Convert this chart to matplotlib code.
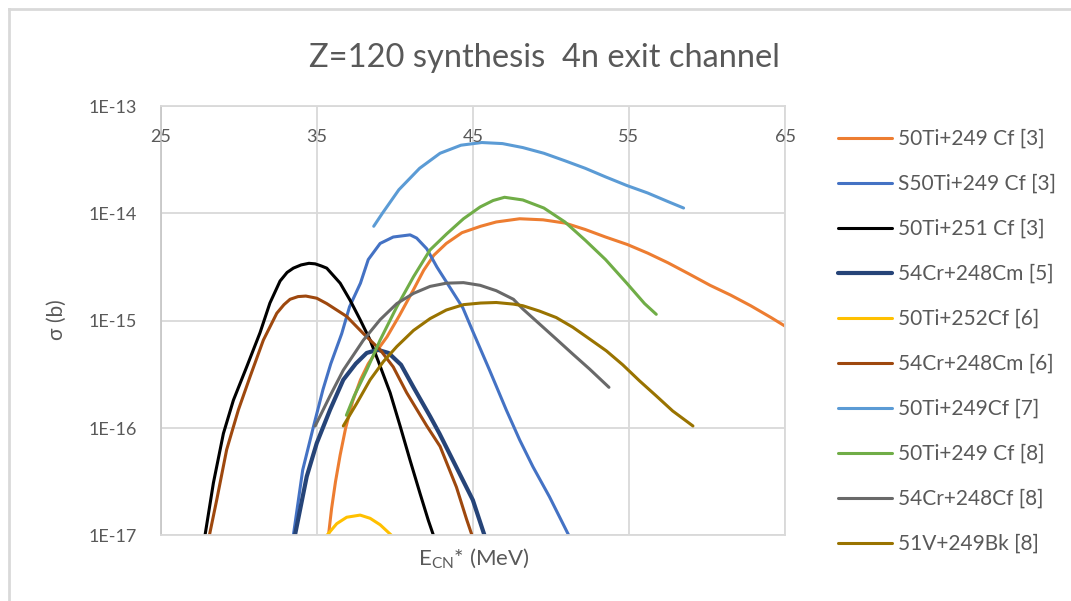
"""Z=120 synthesis, 4n exit channel: cross sections vs excitation energy."""

import numpy as np
import matplotlib.pyplot as plt
from matplotlib.lines import Line2D

plt.rcParams['font.family'] = ['Lato', 'DejaVu Sans']

TEXT = '#595959'
GRID = '#D9D9D9'

# excitation energy E_CN* (MeV) and log10(sigma / b)
ti50_cf249_3_e = [35.75, 35.95, 36.2, 36.5, 36.85, 37.3, 37.8, 38.3, 38.9, 39.5, 40.3, 41.2,
                  41.85, 42.5, 43.3, 44.3, 45.5, 46.5, 48.0, 49.5, 50.9, 52.2, 53.5, 54.9,
                  56.2, 57.5, 58.8, 60.2, 61.5, 62.8, 64.1, 65.0]
ti50_cf249_3_log = [-17.0, -16.75, -16.5, -16.25, -16.0, -15.75, -15.55, -15.4, -15.27, -15.15,
                    -14.95, -14.71, -14.53, -14.39, -14.28, -14.18, -14.12, -14.08, -14.05,
                    -14.06, -14.09, -14.15, -14.22, -14.29, -14.37, -14.46, -14.56, -14.67,
                    -14.76, -14.86, -14.97, -15.05]

s50ti_cf249_3_e = [33.5, 34.1, 34.8, 35.4, 35.9, 36.6, 37.1, 37.8, 38.3, 39.06, 39.9, 40.98,
                   41.4, 42.05, 42.7, 43.4, 44.36, 45.0, 46.07, 47.14, 48.0, 48.85, 49.91, 51.15]
s50ti_cf249_3_log = [-17.0, -16.39, -15.98, -15.64, -15.4, -15.12, -14.87, -14.65, -14.43,
                     -14.28, -14.22, -14.2, -14.23, -14.33, -14.5, -14.66, -14.88, -15.1,
                     -15.46, -15.83, -16.11, -16.36, -16.64, -17.0]

ti50_cf251_3_e = [27.84, 28.38, 29.02, 29.66, 30.51, 31.37, 32.0, 32.65, 33.1, 33.5, 34.0,
                  34.5, 34.9, 35.3, 35.64, 36.5, 37.14, 37.78, 38.42, 38.95, 39.7, 40.34,
                  40.98, 41.62, 42.15, 42.48]
ti50_cf251_3_log = [-17.0, -16.51, -16.05, -15.74, -15.43, -15.11, -14.835, -14.63, -14.55,
                    -14.51, -14.48, -14.465, -14.47, -14.49, -14.51, -14.65, -14.81, -14.99,
                    -15.18, -15.38, -15.67, -15.98, -16.3, -16.61, -16.86, -17.0]

cr54_cm248_5_e = [33.6, 34.36, 35.0, 35.85, 36.7, 37.5, 38.2, 38.9, 39.6, 40.4, 41.2, 42.26,
                  42.86, 43.93, 45.0, 45.75]
cr54_cm248_5_log = [-17.0, -16.45, -16.14, -15.83, -15.55, -15.4, -15.3, -15.27, -15.3, -15.41,
                    -15.62, -15.89, -16.05, -16.36, -16.67, -17.0]

ti50_cf252_6_e = [35.64, 36.28, 36.92, 37.78, 38.42, 39.06, 39.8]
ti50_cf252_6_log = [-17.0, -16.89, -16.83, -16.81, -16.84, -16.9, -17.0]

cr54_cm248_6_e = [28.12, 28.59, 29.23, 29.98, 30.73, 31.58, 32.44, 32.9, 33.29, 33.8, 34.3,
                  35.0, 35.64, 36.92, 37.99, 39.06, 39.9, 40.76, 42.05, 42.9, 43.95, 44.6, 44.95]
cr54_cm248_6_log = [-17.0, -16.67, -16.2, -15.83, -15.52, -15.18, -14.93, -14.85, -14.8,
                    -14.775, -14.77, -14.79, -14.84, -14.96, -15.12, -15.27, -15.43, -15.67,
                    -15.98, -16.17, -16.55, -16.85, -17.0]

ti50_cf249_7_e = [38.65, 39.2, 40.26, 41.59, 42.9, 44.24, 45.57, 46.9, 48.2, 49.55, 50.9, 52.2,
                  53.5, 54.86, 56.2, 57.5, 58.5]
ti50_cf249_7_log = [-14.12, -14.0, -13.78, -13.58, -13.44, -13.365, -13.34, -13.35, -13.387,
                    -13.44, -13.51, -13.58, -13.66, -13.74, -13.81, -13.89, -13.95]

ti50_cf249_8_e = [36.9, 37.4, 38.2, 39.06, 40.13, 41.2, 42.26, 43.33, 44.4, 45.47, 46.3, 47.03,
                  48.2, 49.55, 50.9, 52.2, 53.5, 54.86, 56.0, 56.75]
ti50_cf249_8_log = [-15.88, -15.7, -15.46, -15.18, -14.87, -14.59, -14.34, -14.19, -14.05,
                    -13.94, -13.88, -13.85, -13.875, -13.95, -14.08, -14.25, -14.43, -14.65,
                    -14.84, -14.94]

cr54_cf248_8_e = [34.9, 35.85, 36.7, 37.99, 39.06, 40.13, 41.2, 42.26, 43.3, 44.4, 45.47, 46.5,
                  47.6, 48.2, 49.27, 50.34, 51.4, 52.48, 53.72]
cr54_cf248_8_log = [-15.98, -15.7, -15.46, -15.18, -14.99, -14.84, -14.745, -14.68, -14.65,
                    -14.645, -14.67, -14.72, -14.8, -14.89, -15.03, -15.17, -15.31, -15.45,
                    -15.62]

v51_bk249_8_e = [36.7, 37.56, 38.42, 39.27, 40.13, 41.2, 42.26, 43.3, 44.4, 45.5, 46.5, 47.6,
                 48.2, 49.27, 50.34, 51.4, 52.48, 53.55, 54.6, 55.68, 56.75, 57.8, 59.1]
v51_bk249_8_log = [-15.98, -15.77, -15.55, -15.38, -15.24, -15.09, -14.98, -14.9, -14.85,
                   -14.835, -14.83, -14.845, -14.86, -14.91, -14.97, -15.06, -15.17, -15.28,
                   -15.41, -15.56, -15.7, -15.84, -15.98]

series_labels = ['50Ti+249 Cf [3]', 'S50Ti+249 Cf [3]', '50Ti+251 Cf [3]', '54Cr+248Cm [5]',
                 '50Ti+252Cf [6]', '54Cr+248Cm [6]', '50Ti+249Cf [7]', '50Ti+249 Cf [8]',
                 '54Cr+248Cf [8]', '51V+249Bk [8]']
series_e = [ti50_cf249_3_e, s50ti_cf249_3_e, ti50_cf251_3_e, cr54_cm248_5_e, ti50_cf252_6_e,
            cr54_cm248_6_e, ti50_cf249_7_e, ti50_cf249_8_e, cr54_cf248_8_e, v51_bk249_8_e]
series_log = [ti50_cf249_3_log, s50ti_cf249_3_log, ti50_cf251_3_log, cr54_cm248_5_log,
              ti50_cf252_6_log, cr54_cm248_6_log, ti50_cf249_7_log, ti50_cf249_8_log,
              cr54_cf248_8_log, v51_bk249_8_log]
series_colors = ['#ED7D31', '#4472C4', '#000000', '#264478', '#FFC000', '#9E480E', '#5B9BD5',
                 '#70AD47', '#696969', '#997300']
series_widths = [2.2, 2.2, 2.2, 3.0, 2.2, 2.2, 2.2, 2.2, 2.2, 2.2]

x_ticks = [25, 35, 45, 55, 65]
y_ticks = [1e-17, 1e-16, 1e-15, 1e-14, 1e-13]
y_tick_labels = ['1E-17', '1E-16', '1E-15', '1E-14', '1E-13']

fig = plt.figure(figsize=(10.71, 6.01), dpi=100)
ax = fig.add_axes([0.150, 0.109, 0.583, 0.7146])

for e, lg, c, w, lab in zip(series_e, series_log, series_colors, series_widths, series_labels):
    ax.plot(e, 10.0 ** np.asarray(lg), color=c, lw=w, label=lab,
            solid_capstyle='round', solid_joinstyle='round')

ax.set_yscale('log')
ax.set_xlim(25, 65)
ax.set_ylim(1e-17, 1e-13)
ax.set_xticks(x_ticks)
ax.set_yticks(y_ticks)
ax.set_yticklabels(y_tick_labels)
ax.minorticks_off()
ax.grid(True, color=GRID, lw=1.3)
ax.set_axisbelow(True)
for side in ['top', 'right', 'bottom']:
    ax.spines[side].set_color(GRID)
    ax.spines[side].set_linewidth(1.3)
ax.spines['left'].set_color('#C8C8C8')
ax.spines['left'].set_linewidth(1.3)
ax.tick_params(axis='both', length=0)
ax.tick_params(axis='y', pad=17, labelsize=13, labelcolor=TEXT)
ax.tick_params(axis='x', labelbottom=False)

# x tick labels sit just under the top edge (axis crosses at 1E-13)
for xt in x_ticks:
    ax.text(xt, 0.928, str(xt), transform=ax.get_xaxis_transform(), ha='center',
            va='center', fontsize=13, color=TEXT)

fig.text(0.508, 0.904, 'Z=120 synthesis  4n exit channel', ha='center', va='center',
         fontsize=23.5, color=TEXT)
fig.text(0.4426, 0.060, r'E$_{\mathregular{CN}}$* (MeV)', ha='center', va='baseline',
         fontsize=16, color=TEXT)
fig.text(0.053, 0.4676, 'σ (b)', rotation=90, ha='center', va='center', fontsize=15,
         color=TEXT)

ax.legend(loc='upper left', bbox_to_anchor=(838 / 1071, 1 - 129 / 601),
          bbox_transform=fig.transFigure, frameon=False, fontsize=15, labelcolor=TEXT,
          handlelength=2.6, handletextpad=0.29, labelspacing=1.20, borderpad=0,
          borderaxespad=0)

# outer chart border (left and top edges visible)
fig.add_artist(Line2D([9 / 1071, 9 / 1071], [0, 1 - 9 / 601], transform=fig.transFigure,
                      color=GRID, lw=2))
fig.add_artist(Line2D([9 / 1071, 1], [1 - 9 / 601, 1 - 9 / 601], transform=fig.transFigure,
                      color=GRID, lw=2))

fig.savefig('out.png', dpi=100)
